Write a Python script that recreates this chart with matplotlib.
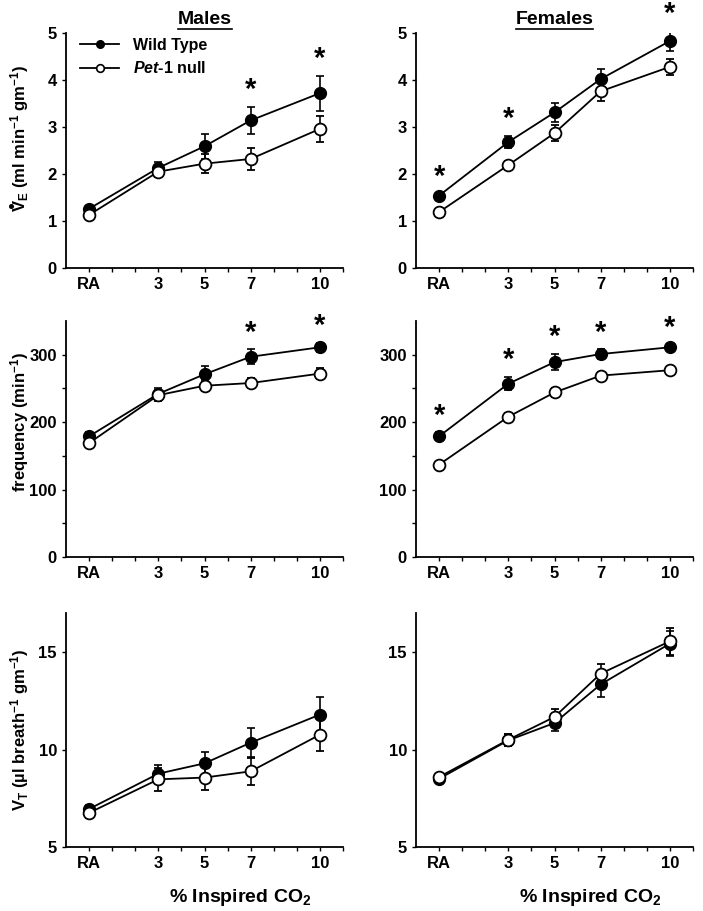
import matplotlib
matplotlib.use("Agg")
import matplotlib.pyplot as plt
from matplotlib.lines import Line2D
import numpy as np

plt.rcParams['font.family'] = ['Liberation Sans', 'DejaVu Sans']
plt.rcParams['font.weight'] = 'bold'
plt.rcParams['mathtext.fontset'] = 'custom'
plt.rcParams['mathtext.rm'] = 'Liberation Sans:bold'
plt.rcParams['mathtext.it'] = 'Liberation Sans:bold:italic'
plt.rcParams['mathtext.bf'] = 'Liberation Sans:bold'

# ---- data ----
co2_pos = [0, 3, 5, 7, 10]
co2_labels = ['RA', '3', '5', '7', '10']

# Minute ventilation (ml min-1 gm-1)
ve_m_wt = [1.26, 2.13, 2.59, 3.14, 3.72]
ve_m_wt_err = [0.05, 0.13, 0.27, 0.29, 0.37]
ve_m_null = [1.13, 2.05, 2.22, 2.32, 2.96]
ve_m_null_err = [0.05, 0.12, 0.20, 0.24, 0.28]
ve_f_wt = [1.54, 2.68, 3.31, 4.02, 4.83]
ve_f_wt_err = [0.05, 0.13, 0.20, 0.21, 0.22]
ve_f_null = [1.19, 2.19, 2.87, 3.76, 4.28]
ve_f_null_err = [0.04, 0.08, 0.17, 0.20, 0.17]

# Frequency (min-1)
f_m_wt = [179, 242, 271, 297, 311]
f_m_wt_err = [7, 8, 12, 11, 7]
f_m_null = [169, 240, 254, 258, 272]
f_m_null_err = [6, 8, 8, 8, 8]
f_f_wt = [179, 257, 289, 301, 311]
f_f_wt_err = [6, 10, 12, 7, 4]
f_f_null = [137, 208, 244, 269, 277]
f_f_null_err = [3, 5, 6, 5, 4]

# Tidal volume (ul breath-1 gm-1)
vt_m_wt = [6.95, 8.76, 9.29, 10.35, 11.79]
vt_m_wt_err = [0.20, 0.45, 0.60, 0.75, 0.92]
vt_m_null = [6.75, 8.47, 8.56, 8.88, 10.76]
vt_m_null_err = [0.25, 0.60, 0.62, 0.70, 0.84]
vt_f_wt = [8.50, 10.47, 11.36, 13.34, 15.43]
vt_f_wt_err = [0.20, 0.30, 0.43, 0.65, 0.65]
vt_f_null = [8.59, 10.50, 11.67, 13.89, 15.55]
vt_f_null_err = [0.15, 0.30, 0.40, 0.50, 0.68]

# significance markers (True = asterisk)
sig_ve_m = [False, False, False, True, True]
sig_ve_f = [True, True, False, False, True]
sig_f_m = [False, False, False, True, True]
sig_f_f = [True, True, True, True, True]
sig_vt_m = [False] * 5
sig_vt_f = [False] * 5

fig = plt.figure(figsize=(7.03, 9.11), dpi=100)

W, H = 703.0, 911.0
xl = [66, 416]
aw = 277
rows = [(33, 268), (321, 557), (613, 847)]

panels = [
    (ve_m_wt, ve_m_wt_err, ve_m_null, ve_m_null_err, sig_ve_m),
    (ve_f_wt, ve_f_wt_err, ve_f_null, ve_f_null_err, sig_ve_f),
    (f_m_wt, f_m_wt_err, f_m_null, f_m_null_err, sig_f_m),
    (f_f_wt, f_f_wt_err, f_f_null, f_f_null_err, sig_f_f),
    (vt_m_wt, vt_m_wt_err, vt_m_null, vt_m_null_err, sig_vt_m),
    (vt_f_wt, vt_f_wt_err, vt_f_null, vt_f_null_err, sig_vt_f),
]
ylims = [(0, 5), (0, 350), (5, 17)]
yticks = [[0, 1, 2, 3, 4, 5], [0, 100, 200, 300], [5, 10, 15]]
yminor = [[], [50, 150, 250], []]
ylabels = [r'V$_\mathrm{E}$ (ml min$^\mathrm{-1}$ gm$^\mathrm{-1}$)',
           r'frequency (min$^\mathrm{-1}$)',
           r'V$_\mathrm{T}$ (µl breath$^\mathrm{-1}$ gm$^\mathrm{-1}$)']
ylabel_y = [0.553, 0.572, 0.50]

axes = []
for r, (top, bot) in enumerate(rows):
    for c in range(2):
        ax = fig.add_axes([xl[c] / W, 1 - bot / H, aw / W, (bot - top) / H])
        axes.append(ax)
        wt, wte, nl, nle, sig = panels[r * 2 + c]
        ax.errorbar(co2_pos, wt, yerr=wte, fmt='-o', color='black', mfc='black',
                    mec='black', ms=8.5, lw=1.3, elinewidth=1.2, capsize=3,
                    capthick=1.2, zorder=3)
        ax.errorbar(co2_pos, nl, yerr=nle, fmt='-o', color='black', mfc='white',
                    mec='black', mew=1.3, ms=8.5, lw=1.3, elinewidth=1.2, capsize=3,
                    capthick=1.2, zorder=4)
        for xi, yi, ei, s in zip(co2_pos, wt, wte, sig):
            if s:
                ax.annotate('*', (xi, yi + ei), xytext=(0, 2), textcoords='offset points',
                            ha='center', va='bottom', fontsize=21, fontweight='bold',
                            annotation_clip=False)
        ax.set_xlim(-1, 11)
        ax.set_ylim(*ylims[r])
        ax.set_xticks(co2_pos)
        ax.set_xticklabels(co2_labels)
        ax.set_xticks([1, 2, 4, 6, 8, 9, 11], minor=True)
        ax.set_yticks(yticks[r])
        ax.set_yticks(yminor[r], minor=True)
        ax.spines['top'].set_visible(False)
        ax.spines['right'].set_visible(False)
        for sp in ('left', 'bottom'):
            ax.spines[sp].set_linewidth(1.3)
        ax.tick_params(which='both', direction='out', length=3, width=1.0, labelsize=12)
        for lab in ax.get_xticklabels() + ax.get_yticklabels():
            lab.set_fontweight('bold')
        if c == 0:
            ax.set_ylabel(ylabels[r], fontsize=12, fontweight='bold')
            ax.yaxis.set_label_coords(-0.125, ylabel_y[r])
        if r == 2:
            ax.set_xlabel(r'% Inspired CO$_\mathrm{2}$', fontsize=14, fontweight='bold')
            ax.xaxis.set_label_coords(0.63, -0.171)

handles = [Line2D([], [], color='black', lw=1.3, marker='o', ms=5.5, mfc='black', mec='black'),
           Line2D([], [], color='black', lw=1.3, marker='o', ms=5.5, mfc='white', mec='black',
                  mew=1.2)]
leg = axes[0].legend(handles, ['Wild Type', r'$\mathit{Pet}$-$\mathit{1}$ null'],
                     loc='upper left', bbox_to_anchor=(0.0, 1.04), frameon=False,
                     fontsize=11.5, handlelength=2.4, handletextpad=0.9,
                     labelspacing=0.45)
for t in leg.get_texts():
    t.set_fontweight('bold')

# titles with underline
titles = ['Males', 'Females']
fig.canvas.draw()
renderer = fig.canvas.get_renderer()
inv = fig.transFigure.inverted()
for c, ttl in enumerate(titles):
    cx = (xl[c] + aw / 2) / W
    t = fig.text(cx, 1 - 20 / H, ttl, ha='center', va='center', fontsize=14,
                 fontweight='bold')
    bb = t.get_window_extent(renderer=renderer)
    (x0, y0), (x1, y1) = inv.transform([[bb.x0, bb.y0], [bb.x1, bb.y1]])
    fig.add_artist(Line2D([x0, x1], [y0 - 0.001, y0 - 0.001], color='black', lw=1.2,
                          transform=fig.transFigure))

# dot over the V of the ventilation label (label is rotated: "above" = to the left)
lab = axes[0].yaxis.label
bb = lab.get_window_extent(renderer=renderer)
fs_px = 12 * fig.dpi / 72.0
x_right = bb.x1
descent = 0.21 * fs_px
cap = 0.72 * fs_px
dot_x = x_right - descent - cap - 4.5
dot_y = bb.y0 + 0.667 * fs_px / 2.0
(dx, dy), = inv.transform([[dot_x, dot_y]])
fig.add_artist(Line2D([dx], [dy], marker='o', ms=2.6, color='black', mec='black',
                      transform=fig.transFigure))

fig.savefig('out.png', dpi=100)
